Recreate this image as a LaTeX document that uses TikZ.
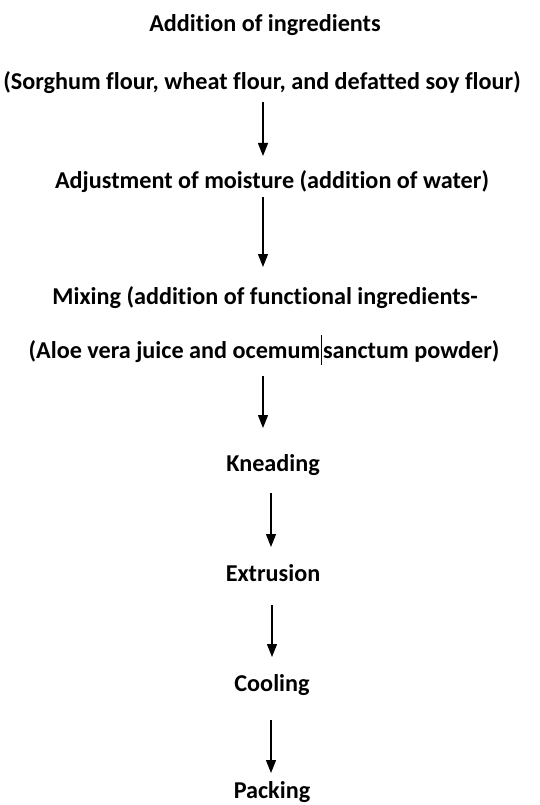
\documentclass[tikz,border=0pt]{standalone}
\usepackage{fontspec}
\setmainfont[Ligatures=NoCommon]{Carlito}
\usetikzlibrary{arrows.meta}
\begin{document}
\begin{tikzpicture}[x=1pt,y=-1pt,
  lbl/.style={font=\fontsize{24.2}{26}\selectfont\bfseries, inner sep=0pt, anchor=center},
  flow/.style={-{Triangle[width=10pt,length=13pt]}, line width=1.3pt, black}]
\clip (0,0) rectangle (539,805);
\useasboundingbox (0,0) rectangle (539,805);
\fill[white] (0,0) rectangle (539,805);
\node[lbl] (t1) at (265,25) {Addition of ingredients};
\node[lbl] (t2) at (262,83) {(Sorghum flour, wheat flour, and defatted soy flour)};
\node[lbl] (t3) at (272,182) {Adjustment of moisture (addition of water)};
\node[lbl] (t4) at (265,298) {Mixing (addition of functional ingredients-};
\node[lbl] (t5) at (264,350) {(Aloe vera juice and ocemum\hspace{0.5pt}\rule[-7pt]{1.2pt}{30pt}\hspace{1pt}sanctum powder)};
\node[lbl] (t6) at (273,465) {Kneading};
\node[lbl] (t7) at (273,573) {Extrusion};
\node[lbl] (t8) at (272,685) {Cooling};
\node[lbl] (t9) at (272,792) {Packing};
\coordinate (a1s) at (263,102); \coordinate (a1e) at (263,156);
\coordinate (a2s) at (263,197); \coordinate (a2e) at (263,267);
\coordinate (a3s) at (263,376); \coordinate (a3e) at (263,428);
\coordinate (a4s) at (271,493); \coordinate (a4e) at (271,547);
\coordinate (a5s) at (272,605); \coordinate (a5e) at (272,657);
\coordinate (a6s) at (271,720); \coordinate (a6e) at (271,773);
\draw[flow] (a1s) -- (a1e);
\draw[flow] (a2s) -- (a2e);
\draw[flow] (a3s) -- (a3e);
\draw[flow] (a4s) -- (a4e);
\draw[flow] (a5s) -- (a5e);
\draw[flow] (a6s) -- (a6e);
\end{tikzpicture}
\end{document}
